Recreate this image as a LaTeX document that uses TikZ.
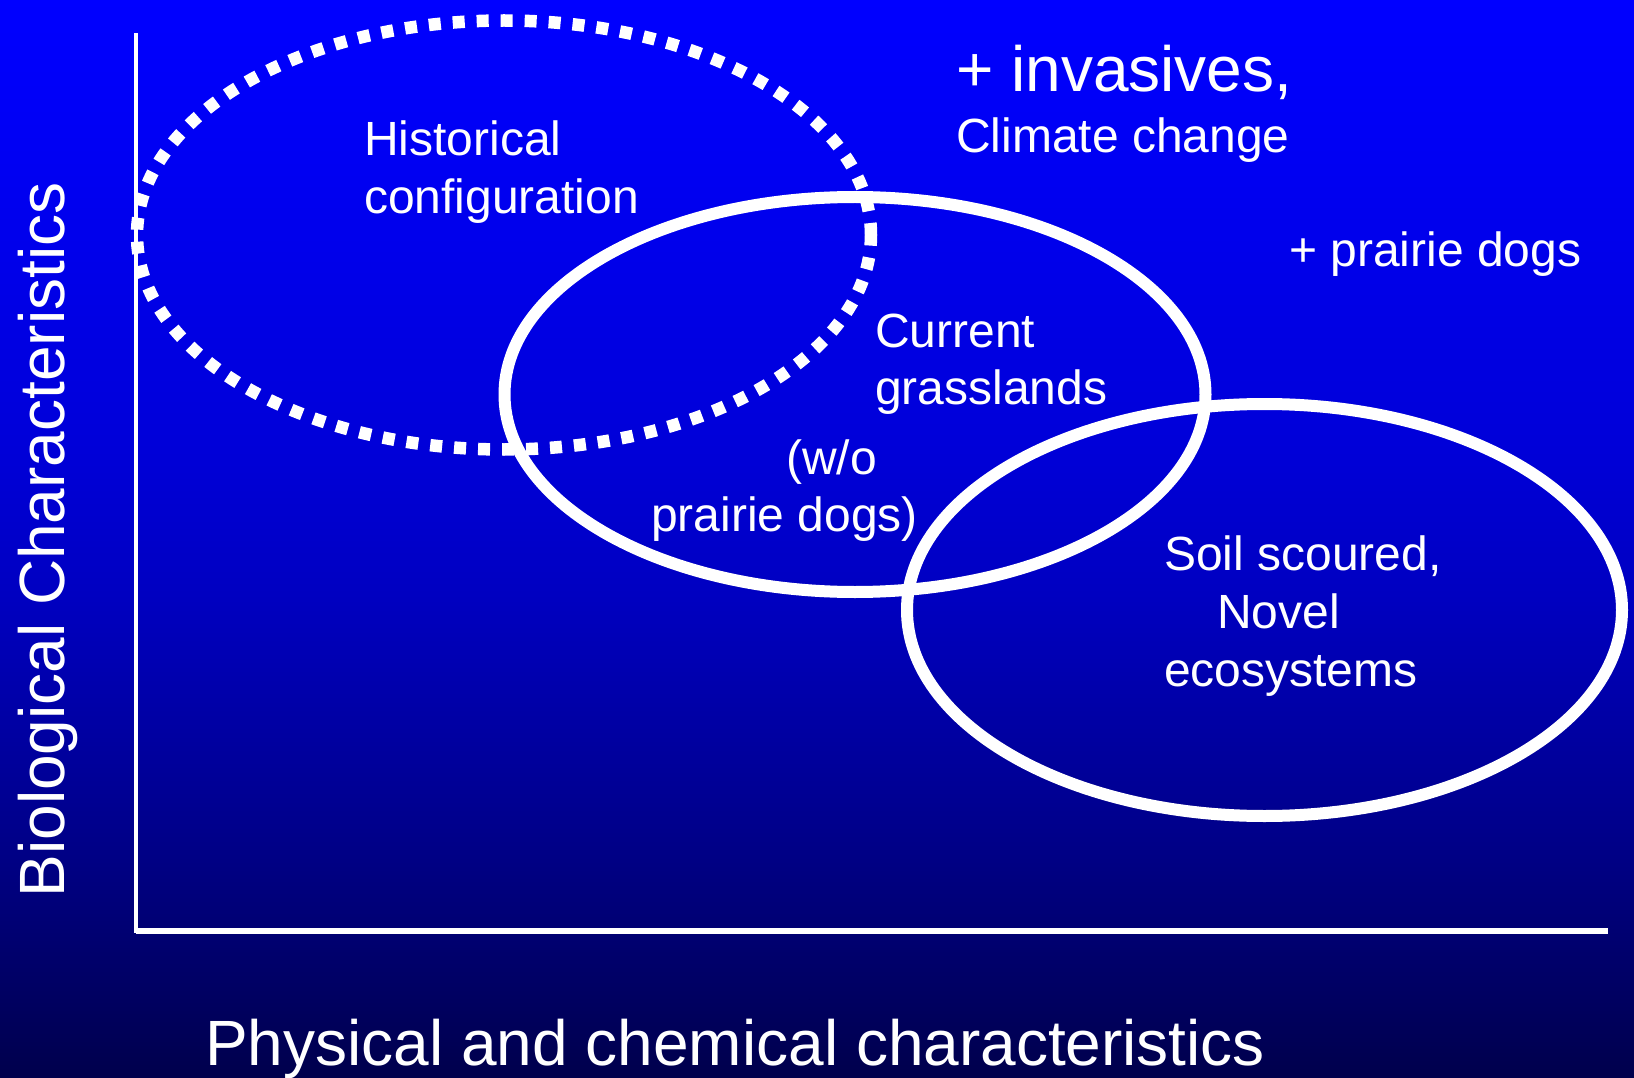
\documentclass[tikz,border=0pt]{standalone}
\usepackage{fontspec}
\setmainfont{Liberation Sans}
\usetikzlibrary{shapes.geometric}

% slide background: bright blue at the top, deep navy at the bottom
\pgfdeclareverticalshading{slidebg}{100bp}{
  rgb(0bp)=(0,0,0.298);
  rgb(25bp)=(0,0,0.298);
  rgb(35.1bp)=(0,0,0.518);
  rgb(39.7bp)=(0,0,0.608);
  rgb(47.2bp)=(0,0,0.753);
  rgb(54.1bp)=(0,0,0.847);
  rgb(67.1bp)=(0,0,0.949);
  rgb(75bp)=(0,0,1);
  rgb(100bp)=(0,0,1)}

\tikzset{
  zone/.style={ellipse, draw=white, line width=12pt, inner sep=0pt, outer sep=0pt},
  pastzone/.style={zone, line width=12.5pt, dash pattern=on 12pt off 12pt},
  lbl/.style={text=white, font=\fontsize{48}{58}\selectfont, anchor=base west, inner sep=0pt},
  biglbl/.style={lbl, font=\fontsize{64}{77}\selectfont},
  axisline/.style={draw=white}
}

\begin{document}
\begin{tikzpicture}[x=1pt, y=-1pt]
  \useasboundingbox (0,0) rectangle (1634,1078);
  \shade[shading=slidebg] (0,0) rectangle (1634,1078);

  % axes
  \coordinate (ytop) at (135.5,35);
  \coordinate (orig) at (135.5,931);
  \coordinate (xend) at (1608,931);
  \draw[axisline, line width=4pt, line cap=rect] (ytop) -- (orig);
  \draw[axisline, line width=5.7pt] (orig) -- (xend);

  % state regions
  \node[pastzone, minimum width=734pt, minimum height=429pt] (hist) at (504,235) {};
  \node[zone, minimum width=701pt, minimum height=395pt] (curr) at (855,394.5) {};
  \node[zone, minimum width=715pt, minimum height=412pt] (novel) at (1264.5,610) {};

  % region labels
  \node[lbl] (hist1) at (364,156) {Historical};
  \node[lbl] (hist2) at (364,214) {configuration};
  \node[biglbl] (inv) at (956,92) {+ invasives,};
  \node[lbl] (clim) at (956,153) {Climate change};
  \node[lbl] (pdog) at (1289,267) {+ prairie dogs};
  \node[lbl] (cur1) at (875,347) {Current};
  \node[lbl] (cur2) at (875,404) {grasslands};
  \node[lbl] (wo1) at (786,474) {(w/o};
  \node[lbl] (wo2) at (651,531) {prairie dogs)};
  \node[lbl] (soil1) at (1164,570) {Soil scoured,};
  \node[lbl] (soil2) at (1217,628) {Novel};
  \node[lbl] (soil3) at (1164,686) {ecosystems};

  % axis titles
  \node[biglbl, rotate=90, anchor=base] (ylab) at (64,540) {Biological Characteristics};
  \node[biglbl] (xlab) at (205,1065) {Physical and chemical characteristics};
\end{tikzpicture}
\end{document}
